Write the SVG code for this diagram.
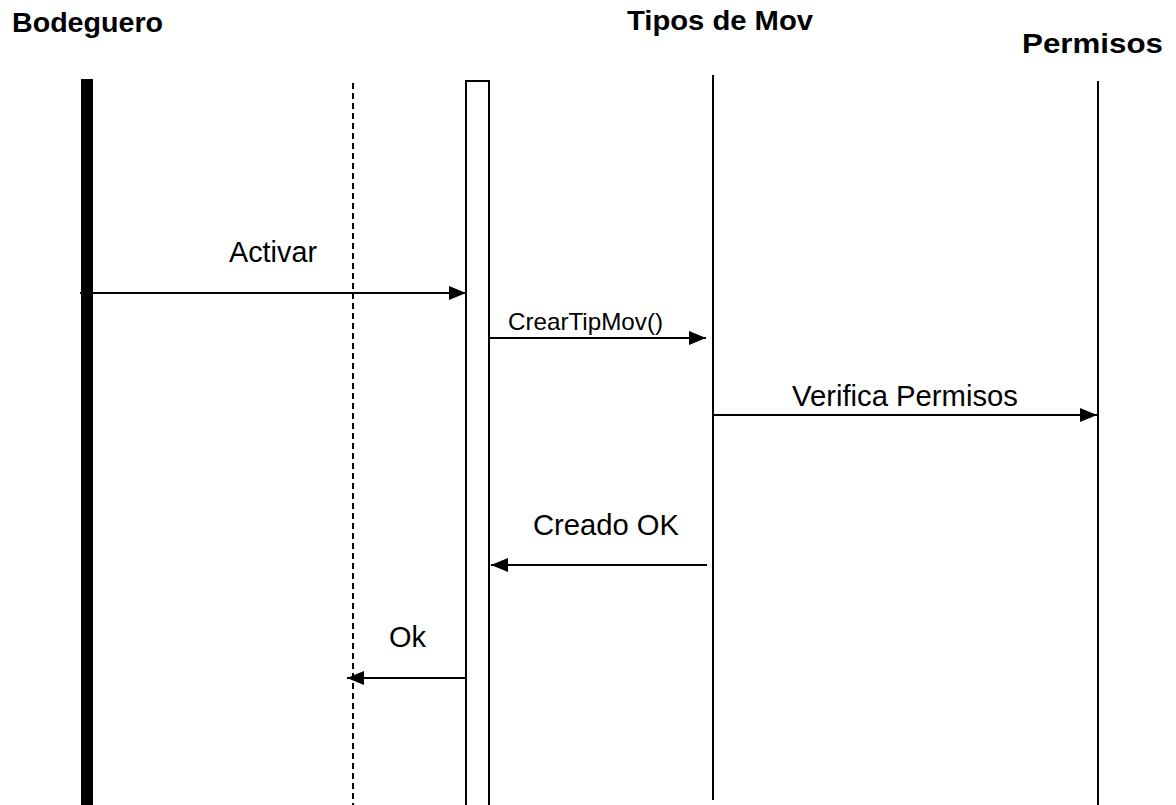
<svg xmlns="http://www.w3.org/2000/svg" width="1176" height="805" viewBox="0 0 1176 805">
<style>
.t{font-family:"Liberation Sans",Arial,sans-serif;font-weight:bold;font-size:28px;fill:#000}
.l{font-family:"Liberation Sans",Arial,sans-serif;font-size:29px;fill:#000}
.s{font-family:"Liberation Sans",Arial,sans-serif;font-size:24px;fill:#000}
.m{stroke:#000;stroke-width:2;fill:none;marker-end:url(#ah)}
.ll{stroke:#000;stroke-width:2;fill:none}
</style>
<defs>
<marker id="ah" markerUnits="userSpaceOnUse" markerWidth="17" markerHeight="14" refX="17" refY="7" orient="auto">
<path d="M0,0 L17,7 L0,14 z" fill="#000"/>
</marker>
</defs>
<rect width="1176" height="805" fill="#fff"/>
<g id="bodeguero">
<text class="t" x="12" y="32" textLength="151" lengthAdjust="spacingAndGlyphs">Bodeguero</text>
<rect x="81" y="79" width="12" height="726" fill="#000"/>
</g>
<g id="boundary">
<line x1="353" y1="83" x2="353" y2="805" stroke="#000" stroke-width="2" stroke-dasharray="6,4"/>
</g>
<g id="activation">
<path d="M466,805 L466,81 L489,81 L489,805" class="ll"/>
</g>
<g id="tipos">
<text class="t" x="627" y="30" textLength="186" lengthAdjust="spacingAndGlyphs">Tipos de Mov</text>
<line x1="713" y1="75" x2="713" y2="800" class="ll"/>
</g>
<g id="permisos">
<text class="t" x="1022" y="53" textLength="141" lengthAdjust="spacingAndGlyphs">Permisos</text>
<line x1="1098" y1="81" x2="1098" y2="805" class="ll"/>
</g>
<g id="connectors">
<line x1="80" y1="293" x2="466" y2="293" class="m"/>
<text class="l" x="229" y="262" textLength="88" lengthAdjust="spacingAndGlyphs">Activar</text>
<line x1="489" y1="338" x2="706" y2="338" class="m"/>
<text class="s" x="508" y="330" textLength="155" lengthAdjust="spacingAndGlyphs">CrearTipMov()</text>
<line x1="713" y1="415" x2="1097" y2="415" class="m"/>
<text class="l" x="792" y="406" textLength="226" lengthAdjust="spacingAndGlyphs">Verifica Permisos</text>
<line x1="707" y1="565" x2="491" y2="565" class="m"/>
<text class="l" x="533" y="535" textLength="146" lengthAdjust="spacingAndGlyphs">Creado OK</text>
<line x1="466" y1="678" x2="347" y2="678" class="m"/>
<text class="l" x="389" y="647" textLength="37" lengthAdjust="spacingAndGlyphs">Ok</text>
</g>
</svg>
